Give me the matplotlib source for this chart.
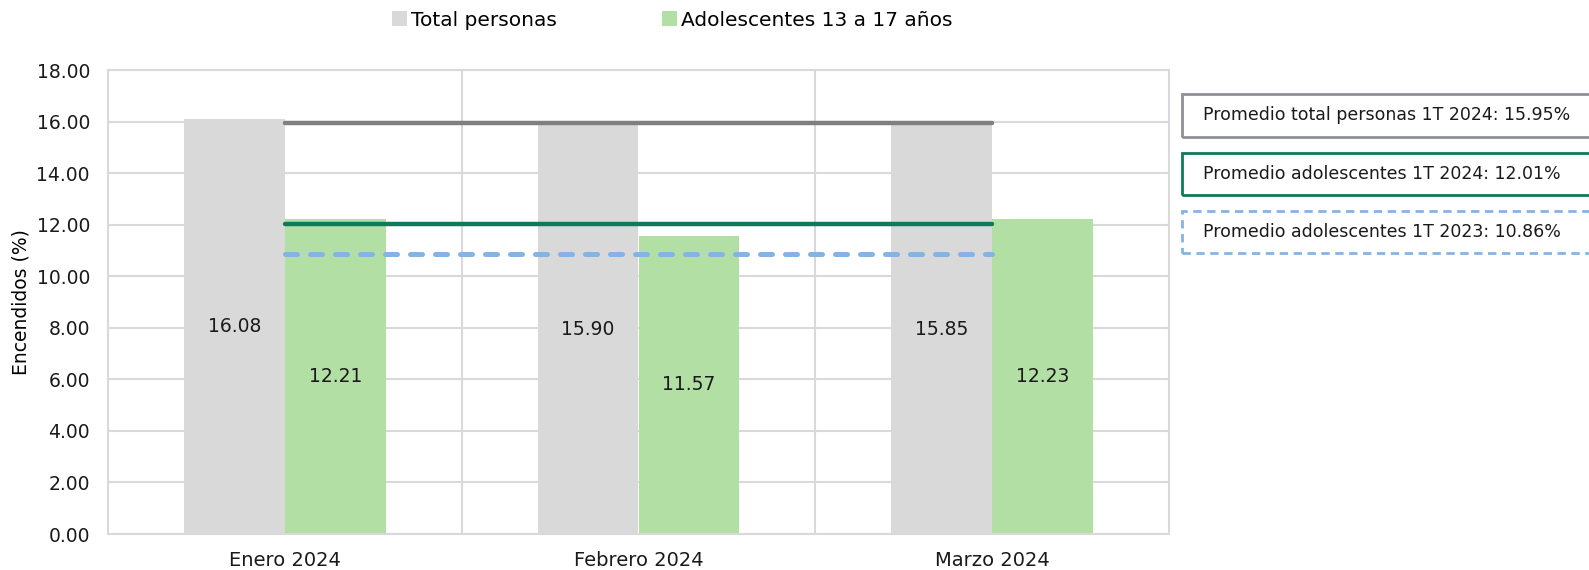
import numpy as np
import matplotlib
matplotlib.use("Agg")
import matplotlib.pyplot as plt
from matplotlib.patches import Rectangle

plt.rcParams['font.family'] = ['DejaVu Sans']

# data
meses = ["Enero 2024", "Febrero 2024", "Marzo 2024"]
total_personas = [16.08, 15.90, 15.85]
adolescentes = [12.21, 11.57, 12.23]
prom_total_2024 = 15.95
prom_adol_2024 = 12.01
prom_adol_2023 = 10.86
series_names = ["Total personas", "Adolescentes 13 a 17 años"]
box_texts = [
    "Promedio total personas 1T 2024: 15.95%",
    "Promedio adolescentes 1T 2024: 12.01%",
    "Promedio adolescentes 1T 2023: 10.86%",
]

c_grey_bar = "#D9D9D9"
c_green_bar = "#B2DFA3"
c_grey_line = "#7F7F7F"
c_green_line = "#0F7A5A"
c_blue_line = "#85B3E4"
c_grid = "#D9D9D9"

fig = plt.figure(figsize=(15.89, 5.70), dpi=100)
ax = fig.add_axes([108 / 1589, 1 - 534 / 570, (1169 - 108) / 1589, (534 - 70) / 570])

x = np.arange(len(meses))
w = 0.285
b1 = ax.bar(x - w / 2, total_personas, w, color=c_grey_bar, label=series_names[0], zorder=2)
b2 = ax.bar(x + w / 2, adolescentes, w, color=c_green_bar, label=series_names[1], zorder=2)

for bars, vals in ((b1, total_personas), (b2, adolescentes)):
    for r, v in zip(bars, vals):
        ax.text(r.get_x() + r.get_width() / 2, v / 2, f"{v:.2f}", ha="center", va="center",
                fontsize=13.5, color="#1a1a1a", zorder=4)

# average lines across the quarter
ax.plot([x[0], x[-1]], [prom_total_2024] * 2, color=c_grey_line, lw=3.2,
        solid_capstyle="round", zorder=3)
ax.plot([x[0], x[-1]], [prom_adol_2024] * 2, color=c_green_line, lw=3.2,
        solid_capstyle="round", zorder=3)
ax.plot([x[0], x[-1]], [prom_adol_2023] * 2, color=c_blue_line, lw=3.6,
        linestyle=(0, (2.4, 2.6)), dash_capstyle="round", zorder=3)

ax.set_xlim(-0.5, 2.5)
ax.set_ylim(0, 18)
ax.set_yticks(np.arange(0, 18.01, 2))
ax.set_yticklabels([f"{t:.2f}" for t in np.arange(0, 18.01, 2)], fontsize=13.5)
ax.set_xticks(x)
ax.set_xticklabels(meses, fontsize=14)
ax.set_xticks([0.5, 1.5], minor=True)
ax.tick_params(axis="both", which="both", length=0, colors="#1a1a1a")
ax.tick_params(axis="x", pad=12)
ax.tick_params(axis="y", pad=13)
ax.grid(axis="y", color=c_grid, lw=1.5, zorder=0)
ax.grid(axis="x", which="minor", color=c_grid, lw=1.5, zorder=0)
for s in ax.spines.values():
    s.set_color(c_grid)
    s.set_linewidth(1.5)
ax.set_ylabel("Encendidos (%)", fontsize=13.5, labelpad=4)

fig.legend(handles=[b1, b2], labels=series_names, loc="center", bbox_to_anchor=(0.423, 1 - 20 / 570),
           ncol=2, frameon=False, fontsize=14.5, handlelength=0.75, handleheight=0.75,
           handletextpad=0.2, columnspacing=5.2)

# boxes on the right
box_styles = [
    (94, 137, "#8F8F97", "solid"),
    (153, 195, c_green_line, "solid"),
    (211, 253, c_blue_line, (0, (3, 2))),
]
for (top, bot, col, ls), txt in zip(box_styles, box_texts):
    rect = Rectangle((1182, 570 - bot), 450, bot - top, transform=None, fill=False,
                     edgecolor=col, lw=2, linestyle=ls, clip_on=False)
    fig.patches.append(rect)
    fig.text(1203 / 1589, 1 - (top + bot) / 2 / 570, txt, fontsize=12.5, va="center",
             ha="left", color="#1a1a1a")

fig.savefig("out.png", dpi=100)
